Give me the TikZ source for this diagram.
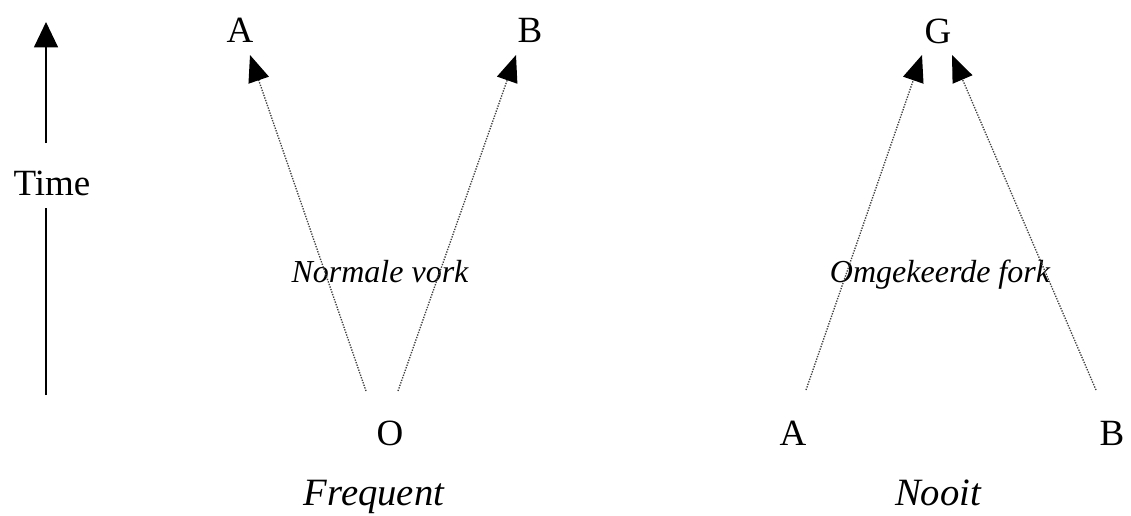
\documentclass[tikz,border=0pt]{standalone}
\usepackage{fontspec}
\setmainfont{Liberation Serif}
\usetikzlibrary{arrows.meta}
\begin{document}
\begin{tikzpicture}[x=0.75pt,y=-0.75pt,
  lbl/.style={font=\fontsize{27.75}{30}\selectfont, inner sep=0pt, anchor=base},
  captxt/.style={font=\fontsize{29}{32}\selectfont\itshape, inner sep=0pt, anchor=base},
  midtxt/.style={font=\fontsize{24}{27}\selectfont\itshape, inner sep=0pt, anchor=base},
  dotarrow/.style={draw=black!75, densely dotted, line width=1pt, -{Triangle[length=20pt,width=16pt,color=black]}},
  timeline/.style={draw=black, line width=0.9pt}
]
\useasboundingbox (0,0) rectangle (1131,515);
% time axis
\coordinate (tbot) at (46,395);
\coordinate (tlow) at (46,208);
\coordinate (thigh) at (46,143);
\coordinate (ttop) at (46,22);
\node[lbl] (time) at (52,195) {Time};
\draw[timeline] (tbot) -- (tlow);
\draw[timeline, -{Triangle[length=19pt,width=18pt]}] (thigh) -- (ttop);
% normal fork
\node[lbl] (A1) at (240,42) {A};
\node[lbl] (B1) at (530,42) {B};
\node[lbl] (O) at (390,445) {O};
\node[captxt] (freq) at (374,505) {Frequent};
\node[midtxt] (nv) at (380,282) {Normale vork};
\coordinate (o1) at (366,391);
\coordinate (o2) at (398,391);
\coordinate (a1t) at (250,55);
\coordinate (b1t) at (516,55);
\draw[dotarrow] (o1) -- (a1t);
\draw[dotarrow] (o2) -- (b1t);
% inverted fork
\node[lbl] (G) at (938,43) {G};
\node[lbl] (A2) at (793,445) {A};
\node[lbl] (B2) at (1112,445) {B};
\node[captxt] (nooit) at (938,505) {Nooit};
\node[midtxt] (ok) at (940,282) {Omgekeerde fork};
\coordinate (a2) at (806,390);
\coordinate (b2) at (1096,390);
\coordinate (g1t) at (922,55);
\coordinate (g2t) at (952,55);
\draw[dotarrow] (a2) -- (g1t);
\draw[dotarrow] (b2) -- (g2t);
\end{tikzpicture}
\end{document}
